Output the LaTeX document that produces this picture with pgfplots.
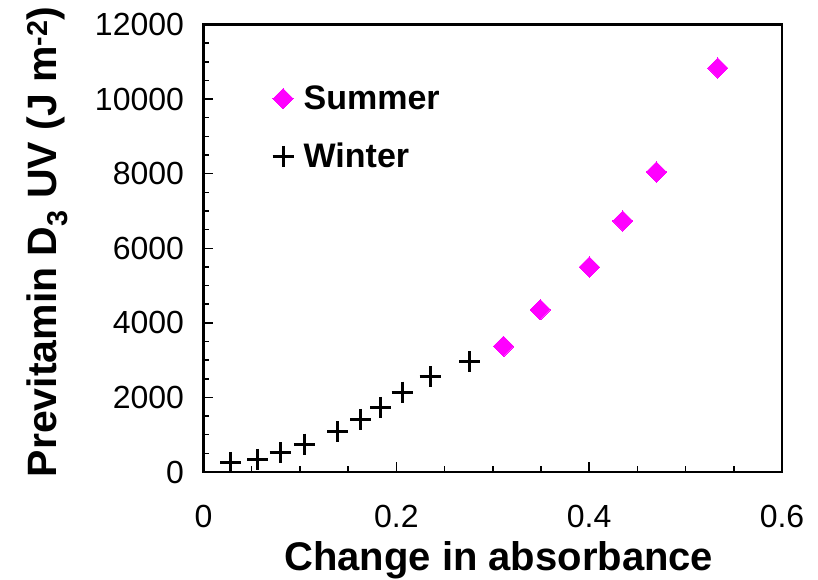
\documentclass[border=0pt]{standalone}
\usepackage{fontspec}
\setmainfont{Liberation Sans}
\usepackage{pgfplots}
\pgfplotsset{compat=1.18}
\definecolor{summer}{RGB}{255,0,255}
\begin{document}
\begin{tikzpicture}
\path[use as bounding box] (-203.5pt,-107pt) rectangle (614.5pt,472pt);
\begin{axis}[
  at={(0pt,0pt)}, anchor=south west,
  scale only axis, width=578.5pt, height=447.5pt,
  xmin=0, xmax=0.6, ymin=0, ymax=12000,
  xtick={0,0.2,0.4,0.6}, ytick={0,2000,...,12000},
  minor x tick num=3, minor y tick num=3,
  scaled x ticks=false, scaled y ticks=false,
  axis line style={line width=2.5pt},
  tick style={line width=1.5pt, black},
  major tick length=10pt, minor tick length=6pt,
  xtick pos=bottom, ytick pos=left, tick align=inside,
  ticklabel style={font=\fontsize{32}{38}\selectfont},
  /pgf/number format/assume math mode=true,
  /pgf/number format/1000 sep={},
  yticklabel style={xshift=-16pt},
  xticklabel style={yshift=-30pt},
  legend style={draw=none, fill=none, at={(0.114,0.872)}, anchor=north west,
    font=\fontsize{34}{41}\selectfont\bfseries, row sep=28pt,
    /tikz/every odd column/.append style={column sep=8pt}},
  legend cell align=left,
  legend image code/.code={\draw[#1] plot coordinates {(0pt,0pt)};},
  clip=false,
]
\addplot[only marks, mark=square*, mark size=7.2pt,
  mark options={rotate=45, fill=summer, draw=summer, line width=0pt}]
  coordinates {
  (0.3112,3371) (0.3493,4352) (0.4002,5497) (0.4348,6731) (0.4697,8045) (0.5334,10833)
};
\addlegendentry{Summer}
\addplot[only marks, mark=+, mark size=10.5pt, mark options={line width=3pt, black}]
  coordinates {
  (0.0285,260) (0.0563,340) (0.0794,510) (0.1046,750) (0.1393,1080)
  (0.1632,1413) (0.1840,1735) (0.2061,2145) (0.2351,2556) (0.2759,2958)
};
\addlegendentry{Winter}
\node[rotate=90, font=\fontsize{41}{48}\selectfont\bfseries, anchor=center]
  at ([xshift=-156pt]axis description cs:0,0.5145)
  {Previtamin D\textsubscript{3} UV (J m\textsuperscript{-2})};
\node[font=\fontsize{40}{48}\selectfont\bfseries, anchor=base]
  at ([yshift=-98pt]axis description cs:0.5104,0)
  {Change in absorbance};
\end{axis}
\end{tikzpicture}
\end{document}
